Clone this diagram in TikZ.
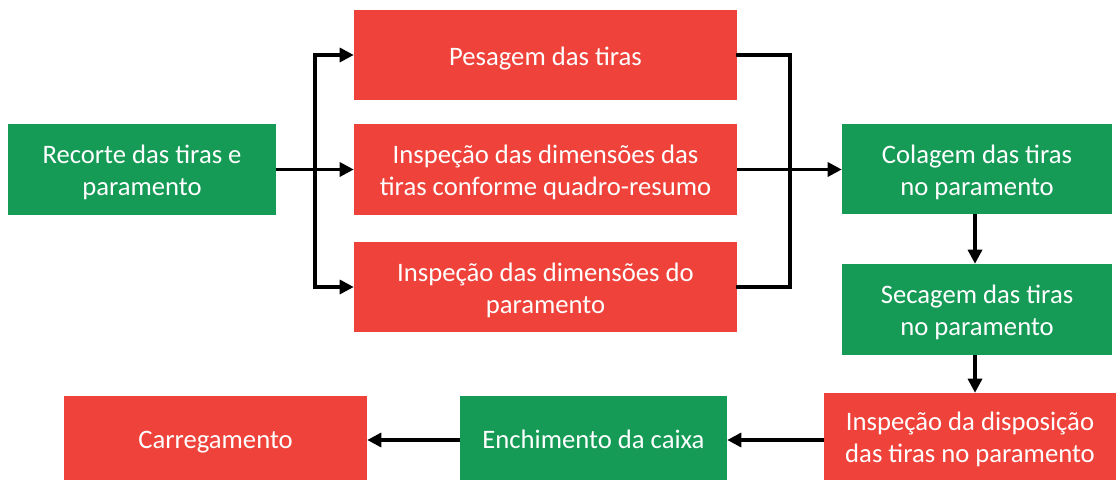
\documentclass[tikz,border=0pt]{standalone}
\usepackage{fontspec}
\setmainfont{Carlito}
\usetikzlibrary{arrows.meta}
\definecolor{rbox}{HTML}{EF423A}
\definecolor{gbox}{HTML}{159B56}
\newcommand{\tx}[1]{\raisebox{-3pt}[\height][\depth]{\begin{tabular}{@{}c@{}}#1\end{tabular}}}
\begin{document}
\begin{tikzpicture}[x=0.75pt,y=-0.75pt,
  box/.style={minimum width=#1, inner sep=0pt, text=white,
    font=\fontsize{20}{24}\selectfont},
  rb/.style={box=#1, fill=rbox},
  gb/.style={box=#1, fill=gbox},
  conn/.style={line width=2.4pt, -{Triangle[length=10.5pt,width=10.5pt]}},
  merge/.style={line width=2.4pt, line cap=rect, line join=miter},
  ]
\useasboundingbox (0,0) rectangle (1116,481);
% boxes
\node[gb=201pt, minimum height=68.25pt] (rec) at (142,169.5) {\tx{Recorte das tiras e\\paramento}};
\node[rb=287.25pt, minimum height=67.5pt] (pes) at (545.5,55) {\tx{Pesagem das tiras}};
\node[rb=287.25pt, minimum height=68.25pt] (dt) at (545.5,169.5) {\tx{Inspeção das dimensões das\\tiras conforme quadro-resumo}};
\node[rb=287.25pt, minimum height=67.5pt] (dp) at (545.5,287) {\tx{Inspeção das dimensões do\\paramento}};
\node[gb=202.5pt, minimum height=67.5pt] (col) at (977,169) {\tx{Colagem das tiras\\no paramento}};
\node[gb=202.5pt, minimum height=68.25pt] (sec) at (977,309.5) {\tx{Secagem das tiras\\no paramento}};
\node[rb=219pt, minimum height=65.25pt] (ins) at (970,436.5) {\tx{Inspeção da disposição\\das tiras no paramento}};
\node[gb=200.25pt, minimum height=63pt] (enc) at (593.5,438) {\tx{Enchimento da caixa}};
\node[rb=227.25pt, minimum height=63pt] (car) at (215.5,438) {\tx{Carregamento}};
% fork
\coordinate (fk) at (315,169.5);
\draw[conn] (rec.east) -- (dt.west);
\draw[conn] (fk) |- (pes.west);
\draw[conn] (fk) |- (dp.west);
% merge
\coordinate (mg) at (790,169.5);
\draw[merge] (pes.east) -| (mg) |- (dp.east);
\draw[conn] (dt.east) -- (col.west |- dt.east);
% down
\draw[conn] (col.south -| 975,0) -- (sec.north -| 975,0);
\draw[conn] (sec.south -| 975,0) -- (ins.north -| 975,0);
% bottom
\draw[conn] (ins.west |- 0,440) -- (enc.east |- 0,440);
\draw[conn] (enc.west |- 0,440) -- (car.east |- 0,440);
\end{tikzpicture}
\end{document}
